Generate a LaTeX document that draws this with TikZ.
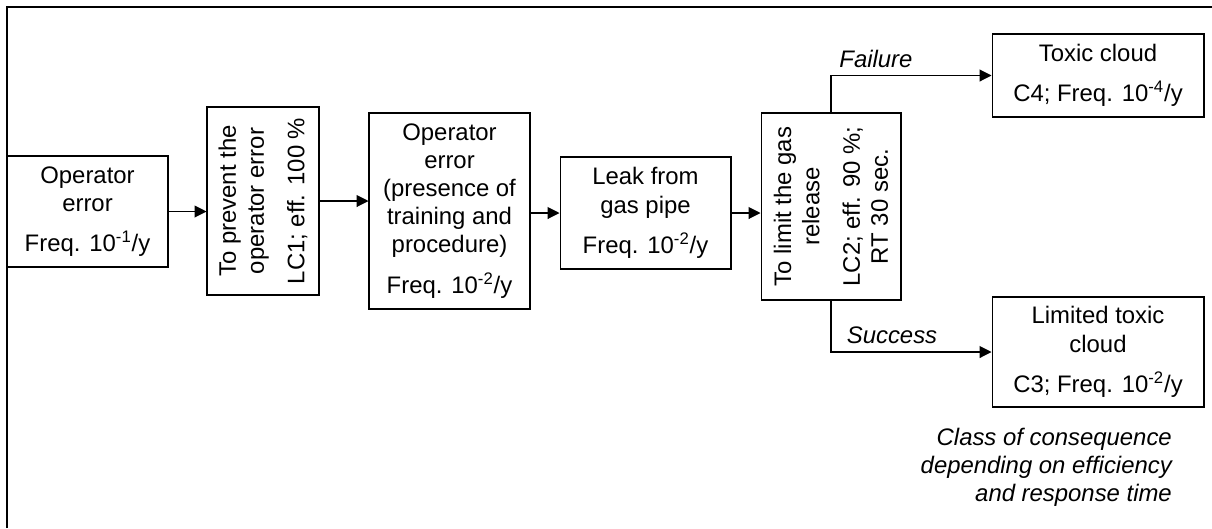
\documentclass[tikz,border=0pt]{standalone}
\usepackage{fontspec}
\setmainfont{Liberation Sans}
\usepackage{tikz}
\usetikzlibrary{positioning}
\usetikzlibrary{arrows.meta}

\tikzset{
    block/.style={draw, line width=0.6pt, align=center, inner sep=0pt,
        font=\fontsize{13.6}{16}\selectfont},
    turned/.style={block, rotate=90},
    arr/.style={line width=0.6pt, -{Triangle[length=6.8pt,width=6.8pt]}},
    lbl/.style={font=\fontsize{13.6}{16}\selectfont\itshape}
}

\begin{document}
\begin{tikzpicture}[x=0.02cm,y=-0.02cm]
    \useasboundingbox (0,0) rectangle (1212,528);
    %Frame
    \draw[line width=0.6pt] (7,528) -- (7,7) -- (1212,7);
    %Boxes
    \node(err1)[block, minimum width=3.22cm, minimum height=2.22cm] at (87.5,211.5)
        {Operator\\error\\[7pt]Freq. 10\textsuperscript{-1}/y};
    \node(lc1)[turned, minimum width=3.76cm, minimum height=2.24cm] at (263,201)
        {To prevent the\\operator error\\[7pt]LC1; eff. 100 \%};
    \node(err2)[block, minimum width=3.22cm, minimum height=3.92cm] at (449.5,211)
        {Operator\\error\\(presence of\\training and\\procedure)\\[7pt]Freq. 10\textsuperscript{-2}/y};
    \node(leak)[block, minimum width=3.42cm, minimum height=2.24cm] at (645.5,213)
        {Leak from\\gas pipe\\[7pt]Freq. 10\textsuperscript{-2}/y};
    \node(lc2)[turned, minimum width=3.74cm, minimum height=2.8cm] at (831,206.5)
        {To limit the gas\\release\\[7pt]LC2; eff. 90 \%;\\RT 30 sec.};
    \node(tox)[block, minimum width=4.24cm, minimum height=1.66cm] at (1098,75.5)
        {Toxic cloud\\[7pt]C4; Freq. 10\textsuperscript{-4}/y};
    \node(ltox)[block, minimum width=4.24cm, minimum height=2.2cm] at (1098,352)
        {Limited toxic\\cloud\\[7pt]C3; Freq. 10\textsuperscript{-2}/y};
    \node(cls)[lbl, align=right, anchor=north east] at (1178,422)
        {Class of consequence\\depending on efficiency\\and response time};
    %Lines
    \draw[arr] (err1.east) -- (err1.east -| lc1.north);
    \draw[arr] (lc1.south) -- (lc1.south -| err2.west);
    \draw[arr] (leak.west -| err2.east) -- (leak.west);
    \draw[arr] (leak.east) -- (leak.east -| lc2.north);
    \draw[arr] (lc2.east) |- node[lbl, pos=0.64, above=1pt] {Failure} (tox.west);
    \draw[arr] (lc2.west) |- node[lbl, pos=0.69, above=1pt] {Success} (ltox.west);
\end{tikzpicture}
\end{document}
